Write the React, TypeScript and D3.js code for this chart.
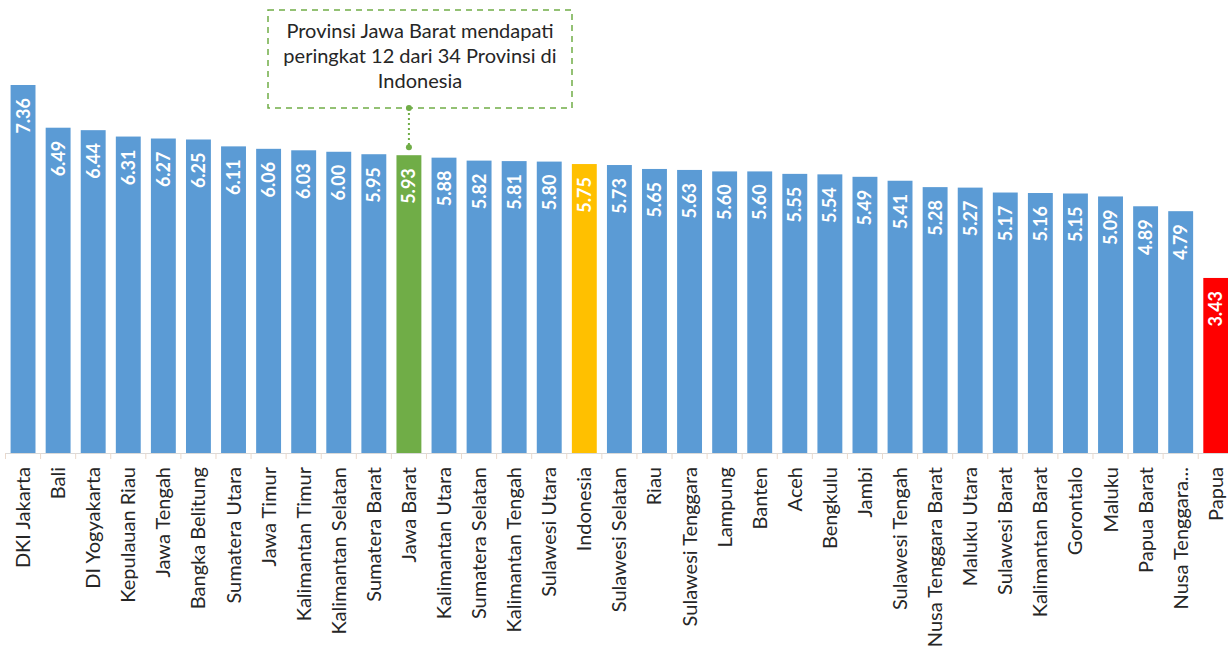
import React from "react";
import * as d3 from "d3";

const provinces: string[] = [
  "DKI Jakarta", "Bali", "DI Yogyakarta", "Kepulauan Riau", "Jawa Tengah", "Bangka Belitung",
  "Sumatera Utara", "Jawa Timur", "Kalimantan Timur", "Kalimantan Selatan", "Sumatera Barat",
  "Jawa Barat", "Kalimantan Utara", "Sumatera Selatan", "Kalimantan Tengah", "Sulawesi Utara",
  "Indonesia", "Sulawesi Selatan", "Riau", "Sulawesi Tenggara", "Lampung", "Banten", "Aceh",
  "Bengkulu", "Jambi", "Sulawesi Tengah", "Nusa Tenggara Barat", "Maluku Utara", "Sulawesi Barat",
  "Kalimantan Barat", "Gorontalo", "Maluku", "Papua Barat", "Nusa Tenggara...", "Papua",
];

const values: number[] = [
  7.36, 6.49, 6.44, 6.31, 6.27, 6.25, 6.11, 6.06, 6.03, 6.0, 5.95, 5.93, 5.88, 5.82, 5.81, 5.8,
  5.75, 5.73, 5.65, 5.63, 5.6, 5.6, 5.55, 5.54, 5.49, 5.41, 5.28, 5.27, 5.17, 5.16, 5.15, 5.09,
  4.89, 4.79, 3.43,
];

const annotationLines: string[] = [
  "Provinsi Jawa Barat mendapati",
  "peringkat 12 dari 34 Provinsi di",
  "Indonesia",
];

const highlightProvince = "Jawa Barat";
const nationalLabel = "Indonesia";
const lowestProvince = "Papua";

const W = 1228;
const H = 648;
const FONT = "Lato, 'Open Sans', sans-serif";

export default function App() {
  const baseY = 453;
  const x = d3
    .scaleBand<string>()
    .domain(provinces)
    .range([5.5, 1233.3])
    .paddingInner(0.29)
    .paddingOuter(0.145);
  const y = d3.scaleLinear().domain([-0.135, 7.5]).range([baseY, baseY - 7.635 * 49.1]);

  const colorFor = (p: string) =>
    p === highlightProvince ? "#70AD47" : p === nationalLabel ? "#FFC000" : p === lowestProvince ? "#FF0000" : "#5B9BD5";

  const hx = (x(highlightProvince) ?? 0) + x.bandwidth() / 2;
  const hIdx = provinces.indexOf(highlightProvince);
  const hTop = y(values[hIdx]);
  const boxTop = 10;
  const boxBottom = 108;
  const boxLeft = 268;
  const boxRight = 572;
  const green = "#70AD47";

  return (
    <svg
      width={W}
      height={H}
      style={{ position: "absolute", left: 0, top: 0, background: "#fff" }}
      fontFamily={FONT}
    >
      {/* axis line */}
      <line x1={5} x2={W} y1={baseY + 0.5} y2={baseY + 0.5} stroke="#D9D9D9" strokeWidth={1} />
      {provinces.map((p, i) => {
        const tx = (x(p) ?? 0) - (x.step() - x.bandwidth()) / 2;
        return <line key={"t" + i} x1={tx} x2={tx} y1={baseY} y2={baseY + 6} stroke="#EAD9CC" strokeWidth={1} />;
      })}
      {provinces.map((p, i) => {
        const bx = x(p) ?? 0;
        const by = y(values[i]);
        const cx = bx + x.bandwidth() / 2;
        const labelY = by + 13;
        return (
          <g key={p}>
            <rect x={bx} y={by} width={x.bandwidth()} height={baseY - by} fill={colorFor(p)} />
            <text
              transform={`translate(${cx + 6.5},${labelY}) rotate(-90)`}
              textAnchor="end"
              fill="#fff"
              fontSize={18}
              fontWeight={700}
            >
              {values[i].toFixed(2)}
            </text>
            <text
              transform={`translate(${cx + 7},${baseY + 14}) rotate(-90)`}
              textAnchor="end"
              fill="#262626"
              fontSize={20}
            >
              {p}
            </text>
          </g>
        );
      })}
      {/* annotation */}
      <rect
        x={boxLeft}
        y={boxTop}
        width={boxRight - boxLeft}
        height={boxBottom - boxTop}
        fill="#fff"
        stroke={green}
        strokeWidth={1.5}
        strokeDasharray="6 5"
      />
      {annotationLines.map((t, i) => (
        <text
          key={"a" + i}
          x={(boxLeft + boxRight) / 2}
          y={38 + i * 25}
          textAnchor="middle"
          fontSize={20}
          fill="#262626"
        >
          {t}
        </text>
      ))}
      <line x1={hx} x2={hx} y1={boxBottom} y2={hTop - 8} stroke={green} strokeWidth={2} strokeDasharray="2 3" />
      <circle cx={hx} cy={boxBottom} r={3} fill={green} />
      <circle cx={hx} cy={hTop - 8} r={3} fill={green} />
    </svg>
  );
}
